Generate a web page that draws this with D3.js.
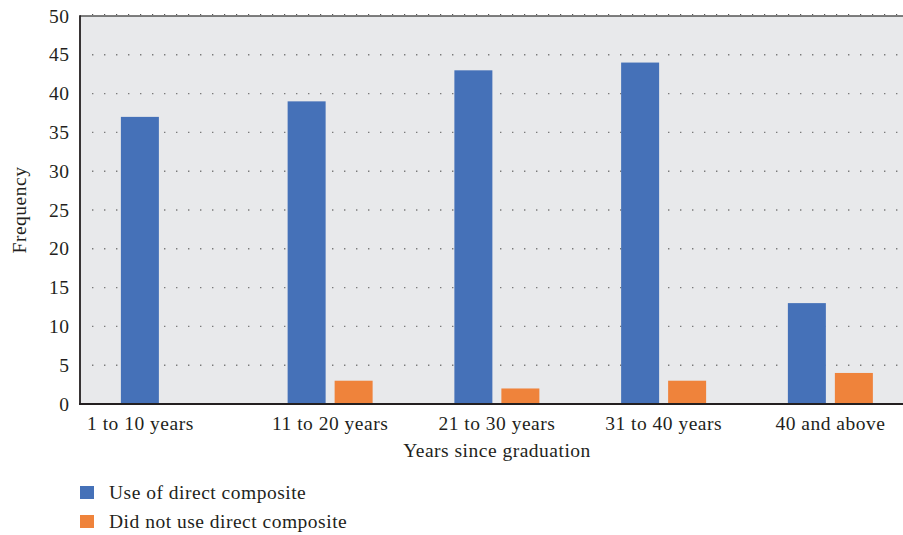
<!DOCTYPE html>
<html>
<head>
<meta charset="utf-8">
<script src="https://cdn.jsdelivr.net/npm/d3@7"></script>
<style>
  html, body { margin: 0; padding: 0; background: #fff; }
  svg text { font-family: "Liberation Serif", "DejaVu Serif", serif; fill: #231f20; letter-spacing: 0.5px; }
</style>
</head>
<body>
<svg id="chart" width="903" height="535"></svg>
<script>
// Frequency of direct composite use by years since graduation
const categories = ["1 to 10 years", "11 to 20 years", "21 to 30 years", "31 to 40 years", "40 and above"];
const useDirect = [37, 39, 43, 44, 13];
const notUseDirect = [0, 3, 2, 3, 4];
const seriesNames = ["Use of direct composite", "Did not use direct composite"];
const seriesColors = ["#4571b8", "#ef833b"];
const yTicks = [0, 5, 10, 15, 20, 25, 30, 35, 40, 45, 50];

const svg = d3.select("#chart");
const plotLeft = 80, plotTop = 16, plotBottom = 404, plotRight = 903;
const fontSize = 19.5;

const y = d3.scaleLinear().domain([0, 50]).range([plotBottom, plotTop]);

// Category bands run slightly past the visible right edge
const x0 = d3.scaleBand()
  .domain(categories)
  .range([plotLeft, 913.75])
  .paddingInner(0.4903)
  .paddingOuter(0.2452);

const x1 = d3.scaleBand()
  .domain([0, 1])
  .range([0, x0.bandwidth()])
  .paddingInner(0.1915)
  .paddingOuter(0);

// Plot background
svg.append("rect")
  .attr("x", plotLeft).attr("y", plotTop)
  .attr("width", plotRight - plotLeft).attr("height", plotBottom - plotTop)
  .attr("fill", "#e8e9eb");

// Dotted horizontal gridlines
svg.append("g")
  .selectAll("line")
  .data(yTicks.filter(t => t > 0 && t < 50))
  .join("line")
  .attr("x1", 92).attr("x2", plotRight)
  .attr("y1", d => y(d)).attr("y2", d => y(d))
  .attr("stroke", "#7a7a7a")
  .attr("stroke-width", 1.4)
  .attr("stroke-dasharray", "1.4 10.6");

// Top frame line with small marks
svg.append("line")
  .attr("x1", plotLeft).attr("x2", plotRight)
  .attr("y1", y(50)).attr("y2", y(50))
  .attr("stroke", "#555").attr("stroke-width", 1.6);
svg.append("line")
  .attr("x1", 92).attr("x2", plotRight)
  .attr("y1", y(50) - 1.5).attr("y2", y(50) - 1.5)
  .attr("stroke", "#555").attr("stroke-width", 1.2)
  .attr("stroke-dasharray", "1.2 10.8");

// Bars
const data = categories.map((c, i) => ({ cat: c, vals: [useDirect[i], notUseDirect[i]] }));
const groups = svg.append("g").selectAll("g")
  .data(data)
  .join("g")
  .attr("transform", d => `translate(${x0(d.cat)},0)`);

groups.selectAll("rect")
  .data(d => d.vals.map((v, k) => ({ k, v })))
  .join("rect")
  .attr("x", d => x1(d.k))
  .attr("width", x1.bandwidth())
  .attr("y", d => y(d.v))
  .attr("height", d => y(0) - y(d.v))
  .attr("fill", d => seriesColors[d.k]);

// Axis lines
svg.append("line")
  .attr("x1", plotLeft).attr("x2", plotLeft)
  .attr("y1", plotTop - 0.8).attr("y2", plotBottom + 1)
  .attr("stroke", "#231f20").attr("stroke-width", 1.8);
svg.append("line")
  .attr("x1", plotLeft - 0.9).attr("x2", plotRight)
  .attr("y1", plotBottom).attr("y2", plotBottom)
  .attr("stroke", "#231f20").attr("stroke-width", 1.8);

// Y tick labels
svg.append("g")
  .selectAll("text")
  .data(yTicks)
  .join("text")
  .attr("x", 69.5)
  .attr("y", d => y(d) + 6.5)
  .attr("text-anchor", "end")
  .attr("font-size", fontSize)
  .text(d => d);

// Category labels (the first one sits left of its band centre)
svg.append("g")
  .selectAll("text")
  .data(categories)
  .join("text")
  .attr("x", (d, i) => x0(d) + x0.bandwidth() / 2 + (i === 0 ? -23 : 0))
  .attr("y", 430)
  .attr("text-anchor", "middle")
  .attr("font-size", fontSize)
  .text(d => d);

// Axis titles
svg.append("text")
  .attr("x", 497).attr("y", 457)
  .attr("text-anchor", "middle")
  .attr("font-size", fontSize)
  .text("Years since graduation");

svg.append("text")
  .attr("transform", `translate(26,${(plotTop + plotBottom) / 2}) rotate(-90)`)
  .attr("text-anchor", "middle")
  .attr("font-size", fontSize)
  .text("Frequency");

// Legend
const legend = svg.append("g")
  .selectAll("g")
  .data(seriesNames)
  .join("g")
  .attr("transform", (d, i) => `translate(80,${486 + i * 29})`);
legend.append("rect")
  .attr("width", 14).attr("height", 13)
  .attr("fill", (d, i) => seriesColors[i]);
legend.append("text")
  .attr("x", 29).attr("y", 12.5)
  .attr("font-size", fontSize)
  .text(d => d);
</script>
</body>
</html>
